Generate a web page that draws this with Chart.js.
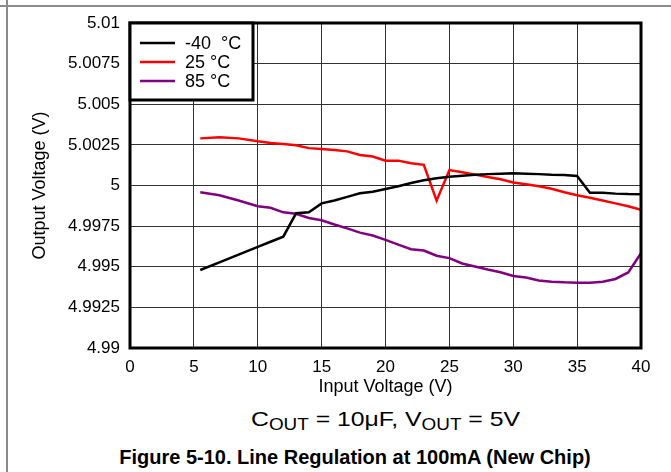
<!DOCTYPE html>
<html>
<head>
<meta charset="utf-8">
<script src="https://cdn.jsdelivr.net/npm/chart.js@4"></script>
<style>
  html, body { margin: 0; padding: 0; background: #fff; }
  body { width: 671px; height: 472px; position: relative; overflow: hidden;
         font-family: "Liberation Sans", Arial, sans-serif; color: #000; }
  .page-top { position: absolute; left: 0; top: 5px; width: 671px; height: 2px; background: #8a8a8a; }
  .page-left { position: absolute; left: 6px; top: 0; width: 2px; height: 472px; background: #8a8a8a; }
  .chart-wrap { position: absolute; left: 0; top: 0; width: 671px; height: 400px; }
  .cond { position: absolute; left: 130px; width: 511px; top: 407px; text-align: center;
          font-size: 21px; transform: scaleX(1.18); transform-origin: 50% 50%; }
  .cond span { font-size: 16px; position: relative; top: 4px; }
  .fig-title { position: absolute; left: 40px; width: 630px; top: 446px; text-align: center;
               font-size: 20px; font-weight: bold; }
</style>
</head>
<body>
<div class="page-top"></div>
<div class="page-left"></div>
<div class="chart-wrap"><canvas id="lineReg"></canvas></div>
<div class="cond">C<span>OUT</span> = 10μF, V<span>OUT</span> = 5V</div>
<div class="fig-title">Figure 5-10. Line Regulation at 100mA (New Chip)</div>

<script>
// ─── Data ─────────────────────────────────────────────────────────────────────
const vin = [5.5, 7, 8.5, 10, 11, 12, 13, 14, 15, 16, 17, 18, 19, 20, 21, 22, 23,
    24, 25, 26, 27, 28, 29, 30, 31, 32, 33, 34, 35, 36, 37, 38, 39, 40];

const voutCold = [4.9948, 4.99527, 4.99575, 4.99622, 4.99654, 4.99685, 4.99829, 4.99835,
    4.9989, 4.99908, 4.9993, 4.99952, 4.99962, 4.99978, 4.99995, 5.00015, 5.00032,
    5.00045, 5.00054, 5.0006, 5.00066, 5.0007, 5.00072, 5.00075, 5.00073, 5.0007,
    5.00066, 5.00064, 5.00058, 4.99956, 4.99956, 4.9995, 4.99947, 4.99946];

const voutRoom = [5.0029, 5.00297, 5.0029, 5.00272, 5.00262, 5.00256, 5.00248, 5.0023,
    5.00224, 5.00218, 5.0021, 5.00188, 5.00178, 5.00152, 5.00153, 5.00137, 5.00127,
    4.99907, 5.00095, 5.00082, 5.00067, 5.00052, 5.00038, 5.00018, 5.00008, 4.99995,
    4.9998, 4.99958, 4.9994, 4.99925, 4.99908, 4.9989, 4.99872, 4.9985];

const voutHot = [4.99958, 4.9994, 4.99908, 4.99872, 4.99863, 4.99835, 4.99826, 4.998,
    4.99786, 4.9976, 4.99736, 4.9971, 4.99692, 4.99665, 4.99636, 4.99608, 4.996,
    4.99568, 4.99553, 4.9952, 4.99502, 4.99483, 4.99466, 4.99443, 4.99434, 4.99415,
    4.99408, 4.99404, 4.99402, 4.99402, 4.99408, 4.99425, 4.99465, 4.99583];

const seriesLabels = ['-40  °C', '25 °C', '85 °C'];
const seriesColors = ['#000000', '#ff0000', '#800080'];

const xTicks = [0, 5, 10, 15, 20, 25, 30, 35, 40];
const yTicks = [4.99, 4.9925, 4.995, 4.9975, 5, 5.0025, 5.005, 5.0075, 5.01];
const yTickLabels = ['4.99', '4.9925', '4.995', '4.9975', '5', '5.0025', '5.005', '5.0075', '5.01'];

const font = '"Liberation Sans", Arial, sans-serif';

const toPoints = ys => vin.map((x, i) => ({ x, y: ys[i] }));

// ─── Plugins ──────────────────────────────────────────────────────────────────
// heavy frame around the plot area
const frameBox = {
    id: 'frameBox',
    afterDatasetsDraw(chart) {
        const { ctx, chartArea: a } = chart;
        ctx.save();
        ctx.strokeStyle = '#000';
        ctx.lineWidth = 3;
        ctx.strokeRect(a.left, a.top, a.right - a.left, a.bottom - a.top);
        ctx.restore();
    },
};

// boxed legend sitting in the top-left corner of the plot
const cornerLegend = {
    id: 'cornerLegend',
    afterDraw(chart) {
        const { ctx, chartArea: a } = chart;
        const w = 123, h = 77;
        ctx.save();
        ctx.fillStyle = '#fff';
        ctx.fillRect(a.left, a.top, w, h);
        ctx.strokeStyle = '#000';
        ctx.lineWidth = 3;
        ctx.strokeRect(a.left, a.top, w, h);
        ctx.font = '18px ' + font;
        ctx.textBaseline = 'middle';
        chart.data.datasets.forEach((ds, i) => {
            const y = a.top + 20 + i * 19;
            ctx.strokeStyle = ds.borderColor;
            ctx.lineWidth = 2.5;
            ctx.beginPath();
            ctx.moveTo(a.left + 10, y);
            ctx.lineTo(a.left + 45, y);
            ctx.stroke();
            ctx.fillStyle = '#000';
            ctx.fillText(ds.label, a.left + 55, y + 1);
        });
        ctx.restore();
    },
};

// ─── Chart ────────────────────────────────────────────────────────────────────
new Chart(document.getElementById('lineReg'), {
    type: 'scatter',
    data: {
        datasets: [voutCold, voutRoom, voutHot].map((ys, i) => ({
            label: seriesLabels[i],
            data: toPoints(ys),
            showLine: true,
            borderColor: seriesColors[i],
            backgroundColor: seriesColors[i],
            borderWidth: 2.5,
            pointRadius: 0,
            tension: 0,
        })),
    },
    options: {
        responsive: true,
        maintainAspectRatio: false,
        animation: false,
        layout: { padding: { left: 0, top: 23, right: 30, bottom: 0 } },
        plugins: {
            legend: { display: false },
            tooltip: { enabled: false },
        },
        scales: {
            x: {
                type: 'linear',
                min: 0,
                max: 40,
                afterBuildTicks: s => { s.ticks = xTicks.map(v => ({ value: v })); },
                afterFit: s => { s.height = 52; },
                ticks: { color: '#000', font: { family: font, size: 17 }, padding: 9 },
                grid: { color: '#333', lineWidth: 1, drawTicks: false },
                border: { display: false },
                title: {
                    display: true,
                    text: 'Input Voltage (V)',
                    color: '#000',
                    font: { family: font, size: 18 },
                    padding: { top: 0, bottom: 2 },
                },
            },
            y: {
                type: 'linear',
                min: 4.99,
                max: 5.01,
                afterBuildTicks: s => { s.ticks = yTicks.map(v => ({ value: v })); },
                afterFit: s => { s.width = 130; },
                ticks: {
                    color: '#000',
                    font: { family: font, size: 17 },
                    padding: 10,
                    callback: (v, i) => yTickLabels[i],
                },
                grid: { color: '#333', lineWidth: 1, drawTicks: false },
                border: { display: false },
                title: {
                    display: true,
                    text: 'Output Voltage (V)',
                    color: '#000',
                    font: { family: font, size: 18 },
                    padding: { top: 29, bottom: 0 },
                },
            },
        },
    },
    plugins: [frameBox, cornerLegend],
});
</script>
</body>
</html>
